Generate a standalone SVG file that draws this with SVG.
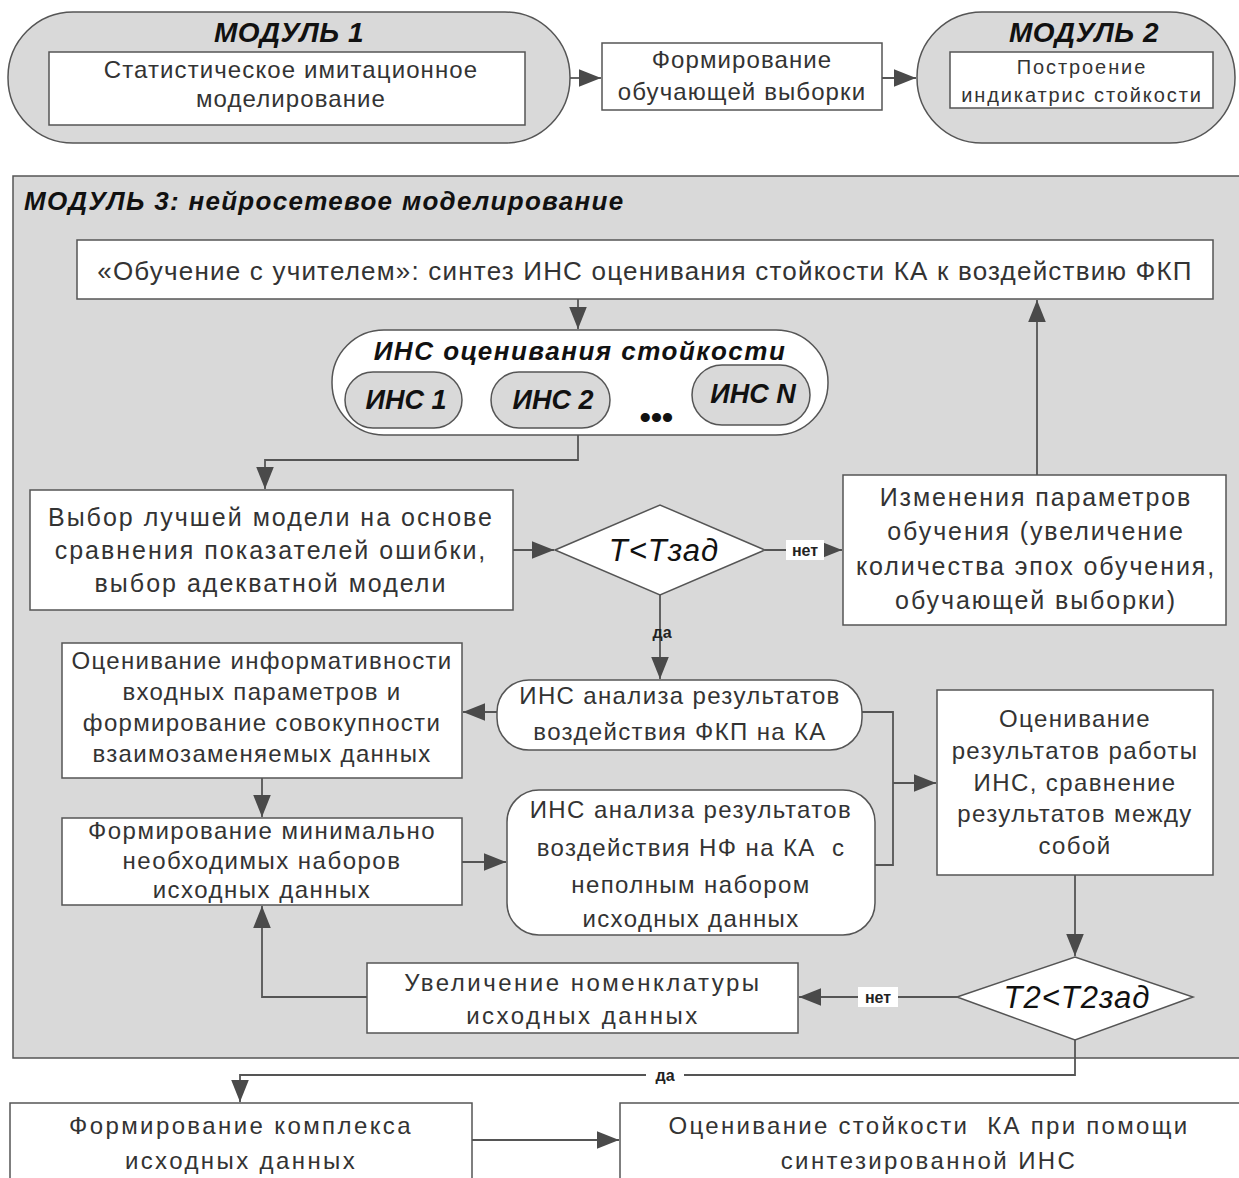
<svg xmlns="http://www.w3.org/2000/svg" width="1239" height="1178" viewBox="0 0 1239 1178">
<defs>
<marker id="ah" viewBox="0 0 10 10" refX="10" refY="5" markerWidth="22" markerHeight="22" markerUnits="userSpaceOnUse" orient="auto">
<path d="M0,1 L10,5 L0,9 z" fill="#4a4a4a"/>
</marker>
<style>
.gray{fill:#d9d9d9;stroke:#555;stroke-width:1.5}
.box{fill:#fff;stroke:#555;stroke-width:1.5}
.ln{fill:none;stroke:#555;stroke-width:1.8}
.t{font-family:"Liberation Sans",Arial,sans-serif;fill:#333;text-anchor:middle;font-size:24px}
.t25{font-size:25px}
.t26{font-size:26px}
.t20{font-size:20px}
.dec{font-size:31px;font-style:italic;fill:#111}
.bi{font-family:"Liberation Sans",Arial,sans-serif;fill:#111;font-weight:bold;font-style:italic;text-anchor:middle}
.lbl{font-family:"Liberation Sans",Arial,sans-serif;fill:#222;font-weight:bold;font-size:16px;text-anchor:middle}
</style>
</defs>
<rect width="1239" height="1178" fill="#fff"/>

<g id="module1">
<rect class="gray" x="8" y="12" width="562" height="131" rx="65"/>
<text class="bi" x="289" y="42" font-size="28" letter-spacing="0.5">МОДУЛЬ 1</text>
<rect class="box" x="49" y="52" width="476" height="73"/>
<text class="t" x="291" y="78" letter-spacing="1.1">Статистическое имитационное</text>
<text class="t" x="291" y="107" letter-spacing="1.1">моделирование</text>
</g>

<g id="sample">
<rect class="box" x="602" y="43" width="280" height="67"/>
<text class="t" x="742" y="68" letter-spacing="1.1">Формирование</text>
<text class="t" x="742" y="100" letter-spacing="1.1">обучающей выборки</text>
</g>

<g id="module2">
<rect class="gray" x="917" y="12" width="318" height="131" rx="65"/>
<text class="bi" x="1084" y="42" font-size="28" letter-spacing="0.5">МОДУЛЬ 2</text>
<rect class="box" x="950" y="52" width="263" height="56"/>
<text class="t t20" x="1082" y="74" letter-spacing="1.9">Построение</text>
<text class="t t20" x="1082" y="102" letter-spacing="1.9">индикатрис стойкости</text>
</g>

<g id="module3">
<rect class="gray" x="13" y="176" width="1240" height="882"/>
<text class="bi" x="24" y="210" font-size="26" letter-spacing="1.3" style="text-anchor:start">МОДУЛЬ 3: нейросетевое моделирование</text>
</g>

<g id="training">
<rect class="box" x="77" y="240" width="1136" height="59"/>
<text class="t t26" x="645" y="280" letter-spacing="1.2">«Обучение с учителем»: синтез ИНС оценивания стойкости КА к воздействию ФКП</text>
</g>

<g id="ins-group">
<rect class="box" x="332" y="330" width="496" height="105" rx="52"/>
<text class="bi" x="580" y="360" font-size="26" letter-spacing="1.5">ИНС оценивания стойкости</text>
<rect class="gray" x="345" y="372" width="117" height="56" rx="28"/>
<text class="bi" x="406" y="409" font-size="27">ИНС 1</text>
<rect class="gray" x="491" y="372" width="119" height="56" rx="28"/>
<text class="bi" x="553" y="409" font-size="27">ИНС 2</text>
<text class="bi" x="656" y="428" font-size="32">•••</text>
<rect class="gray" x="692" y="365" width="118" height="60" rx="30"/>
<text class="bi" x="753" y="403" font-size="27">ИНС N</text>
</g>

<g id="best">
<rect class="box" x="30" y="490" width="483" height="120"/>
<text class="t t25" x="271" y="526" letter-spacing="2">Выбор лучшей модели на основе</text>
<text class="t t25" x="271" y="559" letter-spacing="2">сравнения показателей ошибки,</text>
<text class="t t25" x="271" y="592" letter-spacing="2">выбор адекватной модели</text>
</g>

<g id="dec1">
<polygon class="box" points="555,550 660,505 765,550 660,595"/>
<text class="t dec" x="664" y="561" letter-spacing="1">T&lt;Tзад</text>
</g>

<g id="change">
<rect class="box" x="843" y="475" width="383" height="150"/>
<text class="t t25" x="1036" y="506" letter-spacing="1.9">Изменения параметров</text>
<text class="t t25" x="1036" y="540" letter-spacing="1.9">обучения (увеличение</text>
<text class="t t25" x="1036" y="575" letter-spacing="1.9">количества эпох обучения,</text>
<text class="t t25" x="1036" y="609" letter-spacing="1.9">обучающей выборки)</text>
</g>

<g id="ins-fkp">
<rect class="box" x="497" y="680" width="365" height="70" rx="32"/>
<text class="t" x="680" y="704" letter-spacing="1.35">ИНС анализа результатов</text>
<text class="t" x="680" y="740" letter-spacing="1.35">воздействия ФКП на КА</text>
</g>

<g id="inform">
<rect class="box" x="62" y="643" width="400" height="135"/>
<text class="t" x="262" y="669" letter-spacing="1.3">Оценивание информативности</text>
<text class="t" x="262" y="700" letter-spacing="1.3">входных параметров и</text>
<text class="t" x="262" y="731" letter-spacing="1.3">формирование совокупности</text>
<text class="t" x="262" y="762" letter-spacing="1.3">взаимозаменяемых данных</text>
</g>

<g id="minset">
<rect class="box" x="62" y="818" width="400" height="87"/>
<text class="t" x="262" y="839" letter-spacing="1.5">Формирование минимально</text>
<text class="t" x="262" y="869" letter-spacing="1.5">необходимых наборов</text>
<text class="t" x="262" y="898" letter-spacing="1.5">исходных данных</text>
</g>

<g id="ins-nf">
<rect class="box" x="507" y="790" width="368" height="145" rx="32"/>
<text class="t" x="691" y="818" letter-spacing="1.4">ИНС анализа результатов</text>
<text class="t" x="691" y="856" letter-spacing="1.4">воздействия НФ на КА&#160; с</text>
<text class="t" x="691" y="893" letter-spacing="1.4">неполным набором</text>
<text class="t" x="691" y="927" letter-spacing="1.4">исходных данных</text>
</g>

<g id="evaluate">
<rect class="box" x="937" y="690" width="276" height="185"/>
<text class="t" x="1075" y="727" letter-spacing="1.4">Оценивание</text>
<text class="t" x="1075" y="759" letter-spacing="1.4">результатов работы</text>
<text class="t" x="1075" y="791" letter-spacing="1.4">ИНС, сравнение</text>
<text class="t" x="1075" y="822" letter-spacing="1.4">результатов между</text>
<text class="t" x="1075" y="854" letter-spacing="1.4">собой</text>
</g>

<g id="dec2">
<polygon class="box" points="957,997 1075,957 1193,997 1075,1040"/>
<text class="t dec" x="1077" y="1008" letter-spacing="1">T2&lt;T2зад</text>
</g>

<g id="increase">
<rect class="box" x="367" y="963" width="431" height="70"/>
<text class="t" x="583" y="991" letter-spacing="2.5">Увеличение номенклатуры</text>
<text class="t" x="583" y="1024" letter-spacing="2.5">исходных данных</text>
</g>

<g id="complex">
<rect class="box" x="10" y="1103" width="462" height="85"/>
<text class="t" x="241" y="1134" letter-spacing="2.4">Формирование комплекса</text>
<text class="t" x="241" y="1169" letter-spacing="2.4">исходных данных</text>
</g>

<g id="final">
<rect class="box" x="620" y="1103" width="630" height="85"/>
<text class="t" x="929" y="1134" letter-spacing="2.3">Оценивание стойкости&#160; КА при помощи</text>
<text class="t" x="929" y="1169" letter-spacing="2.4">синтезированной ИНС</text>
</g>

<g id="connectors">
<line class="ln" x1="570" y1="78" x2="601" y2="78" marker-end="url(#ah)"/>
<line class="ln" x1="882" y1="78" x2="916" y2="78" marker-end="url(#ah)"/>
<line class="ln" x1="578" y1="299" x2="578" y2="329" marker-end="url(#ah)"/>
<polyline class="ln" points="578,435 578,460 265,460 265,489" marker-end="url(#ah)"/>
<line class="ln" x1="513" y1="550" x2="554" y2="550" marker-end="url(#ah)"/>
<line class="ln" x1="765" y1="550" x2="842" y2="550" marker-end="url(#ah)"/>
<line class="ln" x1="1037" y1="475" x2="1037" y2="300" marker-end="url(#ah)"/>
<line class="ln" x1="660" y1="595" x2="660" y2="679" marker-end="url(#ah)"/>
<line class="ln" x1="497" y1="712" x2="463" y2="712" marker-end="url(#ah)"/>
<line class="ln" x1="262" y1="778" x2="262" y2="817" marker-end="url(#ah)"/>
<line class="ln" x1="462" y1="862" x2="506" y2="862" marker-end="url(#ah)"/>
<polyline class="ln" points="862,712 893,712 893,865 875,865"/>
<line class="ln" x1="893" y1="783" x2="936" y2="783" marker-end="url(#ah)"/>
<line class="ln" x1="1075" y1="875" x2="1075" y2="956" marker-end="url(#ah)"/>
<line class="ln" x1="957" y1="997" x2="799" y2="997" marker-end="url(#ah)"/>
<polyline class="ln" points="367,997 262,997 262,906" marker-end="url(#ah)"/>
<polyline class="ln" points="1075,1040 1075,1075 240,1075 240,1102" marker-end="url(#ah)"/>
<line class="ln" x1="472" y1="1140" x2="619" y2="1140" marker-end="url(#ah)"/>
<rect x="786" y="540" width="38" height="20" fill="#fff"/>
<text class="lbl" x="805" y="556">нет</text>
<text class="lbl" x="662" y="638">да</text>
<rect x="858" y="987" width="40" height="20" fill="#fff"/>
<text class="lbl" x="878" y="1003">нет</text>
<rect x="646" y="1065" width="38" height="20" fill="#fff"/>
<text class="lbl" x="665" y="1081">да</text>
</g>
</svg>
